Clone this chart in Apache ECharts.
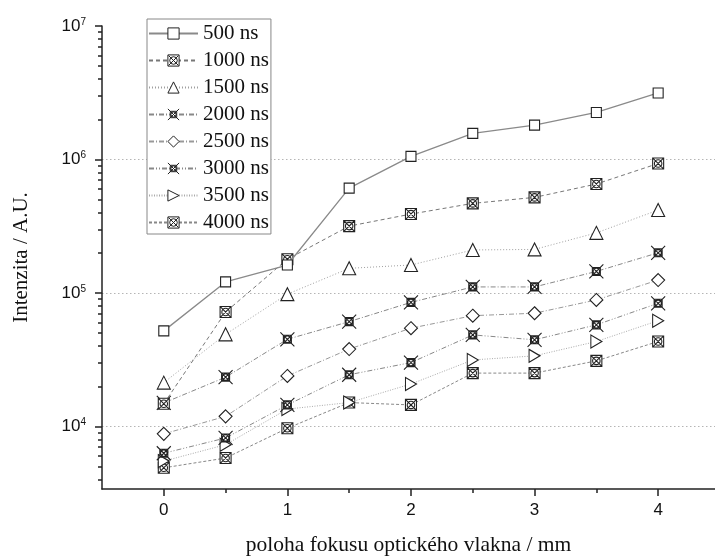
<!DOCTYPE html>
<html>
<head>
<meta charset="utf-8">
<script src="https://cdn.jsdelivr.net/npm/echarts@6.0.0/dist/echarts.min.js"></script>
<style>
  html, body { margin: 0; padding: 0; background: #fff; }
  #chart { width: 715px; height: 556px; }
</style>
</head>
<body>
<div id="chart"></div>
<script>
// data
var positions = [0, 0.5, 1, 1.5, 2, 2.5, 3, 3.5, 4];
var seriesNames = ['500 ns', '1000 ns', '1500 ns', '2000 ns', '2500 ns', '3000 ns', '3500 ns', '4000 ns'];
var ns500  = [52000, 121000, 162000, 610000, 1055000, 1570000, 1810000, 2250000, 3150000];
var ns1000 = [14800, 72000, 179000, 317000, 390000, 469000, 520000, 655000, 933000];
var ns1500 = [21300, 49000, 98000, 153000, 162000, 210000, 212000, 282000, 418000];
var ns2000 = [15000, 23400, 45000, 61000, 85000, 111000, 111000, 145000, 200000];
var ns2500 = [8800, 11900, 23900, 38000, 54500, 67600, 70500, 88700, 125000];
var ns3000 = [6300, 8200, 14500, 24400, 30100, 48500, 44600, 57700, 83700];
var ns3500 = [5500, 7300, 13500, 15100, 20800, 31500, 33800, 43300, 62000];
var ns4000 = [4900, 5800, 9700, 15100, 14500, 25100, 25100, 31000, 43300];

// ticks
var xMajorTicks = [0, 1, 2, 3, 4];
var xMinorTicks = [0.5, 1.5, 2.5, 3.5];
var yMajorTicks = [1e4, 1e5, 1e6, 1e7];
var yGridTicks = [1e4, 1e5, 1e6];

var yMinorTicks = [];
[4000, 5000, 6000, 7000, 8000, 9000].forEach(function (v) { yMinorTicks.push(v); });
[1e4, 1e5, 1e6].forEach(function (d) {
    for (var m = 2; m <= 9; m++) yMinorTicks.push(m * d);
});

var serif = 'Liberation Serif';
var sans = 'Liberation Sans';
var ink = '#222';

// symbols
var symCrossBox = 'path://M0,0H10V10H0Z M5,1.6A3.4,3.4 0 1 1 4.99,1.6Z M0.6,0.6L9.4,9.4 M9.4,0.6L0.6,9.4';
var symCrossX = 'path://M0,0L14,14 M14,0L0,14 M3,3H11V11H3Z M7,3.8A3.2,3.2 0 1 1 6.99,3.8Z';
var symRight = 'path://M0,0L10,6L0,12Z';

var styles = [
    { symbol: 'rect', size: 10, line: { color: '#8a8a8a', width: 1.3, type: 'solid' } },
    { symbol: symCrossBox, size: 11, line: { color: '#777', width: 1, type: [4, 3] } },
    { symbol: 'triangle', size: 13, line: { color: '#a0a0a0', width: 1, type: [1, 2] } },
    { symbol: symCrossX, size: 14, line: { color: '#888', width: 1, type: [5, 2, 1, 2] } },
    { symbol: 'diamond', size: 13, line: { color: '#999', width: 1, type: [5, 2, 1, 2] } },
    { symbol: symCrossX, size: 14, line: { color: '#888', width: 1, type: [5, 2, 1, 2, 1, 2] } },
    { symbol: symRight, size: [11, 13], line: { color: '#aaa', width: 1, type: [1, 1.5] } },
    { symbol: symCrossBox, size: 11, line: { color: '#888', width: 1, type: [3, 2] } }
];
var values = [ns500, ns1000, ns1500, ns2000, ns2500, ns3000, ns3500, ns4000];

var series = values.map(function (vals, i) {
    return {
        name: seriesNames[i],
        type: 'line',
        data: vals.map(function (v, j) { return [positions[j], v]; }),
        symbol: styles[i].symbol,
        symbolSize: styles[i].size,
        showAllSymbol: true,
        lineStyle: styles[i].line,
        itemStyle: { color: '#fff', borderColor: ink, borderWidth: 1.1 },
        emphasis: { disabled: true },
        z: 10 - i
    };
});

var chart = echarts.init(document.getElementById('chart'), null, { renderer: 'canvas' });

var axisLineStyle = { color: ink, width: 1.5 };

var option = {
    animation: false,
    backgroundColor: '#fff',
    grid: { left: 102, right: 0, top: 26, bottom: 67, containLabel: false, outerBoundsMode: 'none' },
    legend: {
        orient: 'vertical',
        left: 147,
        top: 19,
        padding: [4, 2, 1, 1],
        itemWidth: 49,
        itemHeight: 14,
        itemGap: 6,
        backgroundColor: '#fff',
        borderColor: '#888',
        borderWidth: 1,
        borderRadius: 0,
        itemStyle: { color: '#fff', borderColor: ink, borderWidth: 1 },
        textStyle: { fontFamily: serif, fontSize: 21, lineHeight: 20, color: '#111' },
        data: seriesNames
    },
    xAxis: [
        {
            type: 'value',
            min: -0.5,
            max: 4.46,
            position: 'bottom',
            name: 'poloha fokusu optického vlakna / mm',
            nameLocation: 'middle',
            nameGap: 45,
            nameTextStyle: { fontFamily: serif, fontSize: 21.5, color: '#111' },
            axisLine: { onZero: false, lineStyle: axisLineStyle },
            axisTick: { customValues: xMajorTicks, length: 7, lineStyle: axisLineStyle },
            axisLabel: { customValues: xMajorTicks, fontFamily: sans, fontSize: 17, color: '#111', margin: 13 },
            splitLine: { show: false }
        },
        {
            type: 'value',
            min: -0.5,
            max: 4.46,
            position: 'bottom',
            axisLine: { show: false, onZero: false },
            axisTick: { customValues: xMinorTicks, length: 4, lineStyle: axisLineStyle },
            axisLabel: { show: false },
            splitLine: { show: false }
        }
    ],
    yAxis: [
        {
            type: 'log',
            logBase: 10,
            min: 3400,
            max: 1e7,
            position: 'left',
            name: 'Intenzita / A.U.',
            nameLocation: 'middle',
            nameGap: 70,
            nameTextStyle: { fontFamily: serif, fontSize: 21, color: '#111' },
            axisLine: { show: true, onZero: false, lineStyle: axisLineStyle },
            axisTick: { customValues: yMajorTicks, length: 7, lineStyle: axisLineStyle },
            axisLabel: {
                customValues: yMajorTicks,
                margin: 16,
                formatter: function (v) {
                    return '{b|10}{s|' + Math.round(Math.log10(v)) + '}';
                },
                rich: {
                    b: { fontFamily: sans, fontSize: 17, color: '#111', lineHeight: 18 },
                    s: { fontFamily: sans, fontSize: 10, color: '#111', lineHeight: 10, verticalAlign: 'top' }
                }
            },
            splitLine: { show: false }
        },
        {
            type: 'log',
            logBase: 10,
            min: 3400,
            max: 1e7,
            position: 'left',
            axisLine: { show: false, onZero: false },
            axisTick: { customValues: yMinorTicks, length: 4, lineStyle: axisLineStyle },
            axisLabel: { show: false },
            splitLine: { show: false }
        },
        {
            type: 'log',
            logBase: 10,
            min: 3400,
            max: 1e7,
            position: 'left',
            axisLine: { show: false, onZero: false },
            axisTick: { show: false, customValues: yGridTicks },
            axisLabel: { show: false },
            splitLine: { show: true, lineStyle: { color: '#b5b5b5', width: 1, type: [1.5, 2.5] } }
        }
    ],
    series: series
};

chart.setOption(option);
</script>
</body>
</html>
